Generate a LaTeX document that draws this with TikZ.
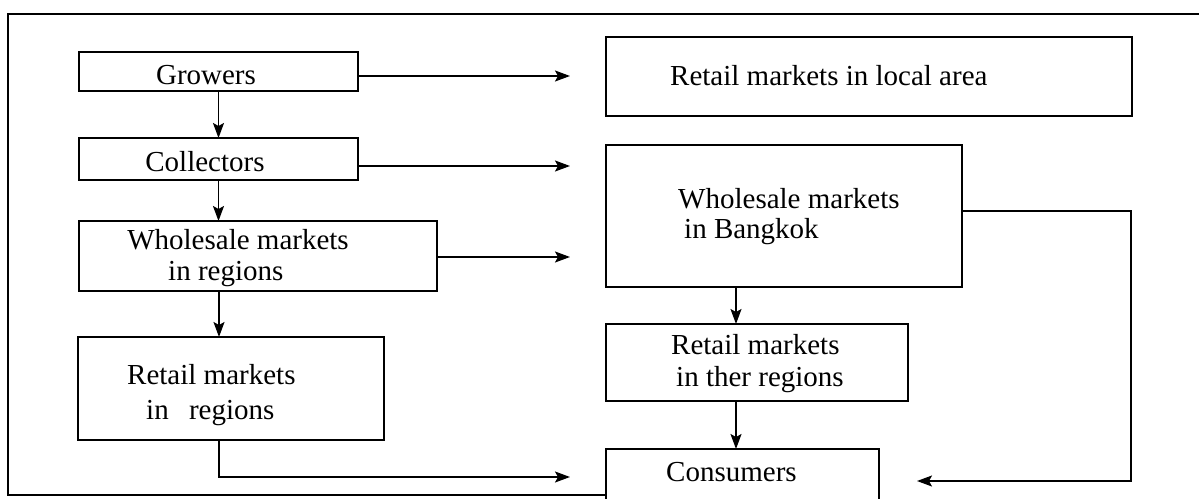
\documentclass[tikz,border=0pt]{standalone}
\usepackage{fontspec}
\setmainfont{Liberation Serif}
\usetikzlibrary{arrows.meta}
\begin{document}
\begin{tikzpicture}[x=1pt,y=-1pt,
  box/.style={draw, line width=2.5pt, inner sep=0pt, outer sep=0pt},
  lbl/.style={inner sep=0pt, anchor=base, font=\fontsize{29}{33}\selectfont},
  lbll/.style={lbl, anchor=base west},
  arr/.style={line width=1.5pt, -{Stealth[length=15pt,width=11pt,inset=3pt]}},
  frame/.style={line width=1.5pt}]
\useasboundingbox (0,0) rectangle (1199,498);
\clip (0,0) rectangle (1199,498);

% outer frame
\draw[frame] (1199,14) -- (8,14) -- (8,495) -- (606,495);

% left column
\node[box, minimum width=279pt, minimum height=39pt]  (grow) at (218.5,71.5) {};
\node[box, minimum width=279pt, minimum height=42pt]  (coll) at (218.5,159) {};
\node[box, minimum width=358pt, minimum height=70pt]  (wreg) at (258,256) {};
\node[box, minimum width=306pt, minimum height=103pt] (rreg) at (231,388.5) {};

% right column
\node[box, minimum width=526pt, minimum height=79pt]  (rloc) at (869,76.5) {};
\node[box, minimum width=356pt, minimum height=142pt] (wbkk) at (784,216) {};
\node[box, minimum width=302pt, minimum height=77pt]  (roth) at (757,362.5) {};
\node[box, minimum width=273pt, minimum height=63pt]  (cons) at (742.5,480.5) {};

% labels
\node[lbl]  (tg)  at (206,84)  {Growers};
\node[lbl]  (tc)  at (205,171) {Collectors};
\node[lbl]  (tw1) at (238,249) {Wholesale markets};
\node[lbll] (tw2) at (168,280) {in regions};
\node[lbll] (tr1) at (127,384) {Retail markets};
\node[lbll] (tr2) at (146,419) {in\hspace*{0.45em} regions};
\node[lbll] (tl)  at (670,85)  {Retail markets in local area};
\node[lbll] (tb1) at (678,208) {Wholesale markets};
\node[lbll] (tb2) at (684,238) {in Bangkok};
\node[lbll] (to1) at (671,354) {Retail markets};
\node[lbll] (to2) at (676,386) {in ther regions};
\node[lbll] (tcn) at (666,481) {Consumers};

% connector ends and bends
\coordinate (vx) at (219,0);
\coordinate (bx) at (736,0);
\coordinate (c1) at (570,76);
\coordinate (c2) at (570,166);
\coordinate (c3) at (570,257);
\coordinate (c4) at (570,477);
\coordinate (r1) at (1131,211);
\coordinate (r2) at (1131,481);
\coordinate (c6) at (917,481);

% vertical flow, left column
\draw[arr] (grow.south) -- (coll.north);
\draw[arr] (coll.south) -- (coll.south |- wreg.north);
\draw[arr] (vx |- wreg.south) -- (vx |- rreg.north);
\draw[arr] (vx |- rreg.south) -- (vx |- c4) -- (c4);

% flows to the right column
\draw[arr] (grow.east |- c1) -- (c1);
\draw[arr] (coll.east |- c2) -- (c2);
\draw[arr] (wreg.east |- c3) -- (c3);

% right column
\draw[arr] (bx |- wbkk.south) -- (bx |- roth.north);
\draw[arr] (bx |- roth.south) -- (bx |- cons.north);
\draw[arr] (wbkk.east |- r1) -- (r1) -- (r2) -- (c6);
\end{tikzpicture}
\end{document}
